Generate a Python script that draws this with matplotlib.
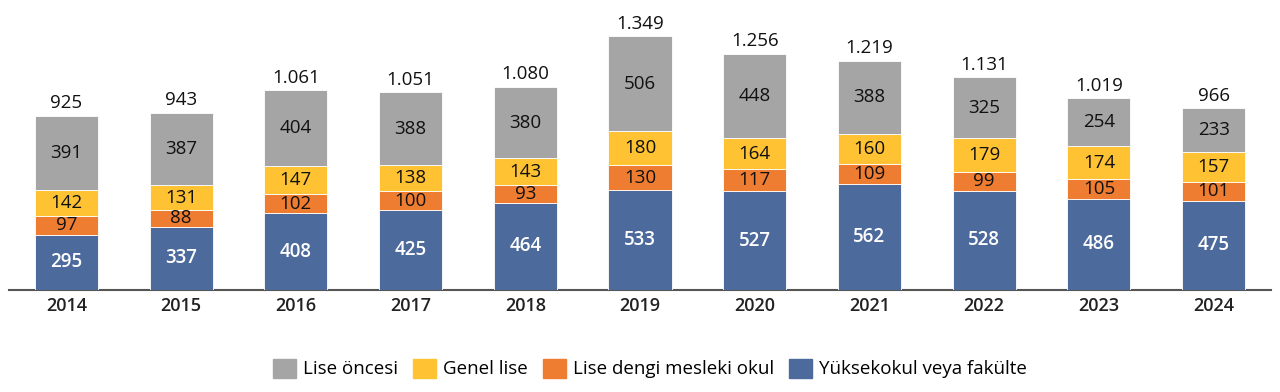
import matplotlib
matplotlib.use('Agg')
import matplotlib.pyplot as plt
import matplotlib.patches as mpatches
import numpy as np

plt.rcParams['font.family'] = ['Open Sans', 'DejaVu Sans']

years = ['2014', '2015', '2016', '2017', '2018', '2019', '2020', '2021', '2022', '2023', '2024']
yuksekokul = [295, 337, 408, 425, 464, 533, 527, 562, 528, 486, 475]
meslek = [97, 88, 102, 100, 93, 130, 117, 109, 99, 105, 101]
genel = [142, 131, 147, 138, 143, 180, 164, 160, 179, 174, 157]
lise_oncesi = [391, 387, 404, 388, 380, 506, 448, 388, 325, 254, 233]
totals = [925, 943, 1061, 1051, 1080, 1349, 1256, 1219, 1131, 1019, 966]

series = [
    ('Yüksekokul veya fakülte', yuksekokul, '#4D6A9C', 'white'),
    ('Lise dengi mesleki okul', meslek, '#EE7D31', '#111111'),
    ('Genel lise', genel, '#FFC232', '#111111'),
    ('Lise öncesi', lise_oncesi, '#A5A5A5', '#111111'),
]


def tr_fmt(v):
    return f'{v:,}'.replace(',', '.')


fig = plt.figure(figsize=(12.8, 3.92), dpi=100)
ax = fig.add_axes([0.007, 0.26, 0.986, 0.74])

x = np.arange(len(years))
bottom = np.zeros(len(years))
for name, vals, color, tcolor in series:
    vals = np.array(vals)
    ax.bar(x, vals, width=0.55, bottom=bottom, color=color, edgecolor='white', linewidth=0.6, zorder=3)
    for xi, b, v in zip(x, bottom, vals):
        ax.text(xi, b + v / 2, str(v), ha='center', va='center', fontsize=13.5,
                color=tcolor, fontweight='semibold' if tcolor == 'white' else 'normal', zorder=4)
    bottom += vals

for xi, t, top in zip(x, totals, bottom):
    ax.text(xi, top + 20, tr_fmt(t), ha='center', va='bottom', fontsize=13.5, color='#111111')

ax.set_xlim(-0.5, 10.5)
ax.set_ylim(0, 1542)
ax.set_xticks(x)
ax.set_xticklabels(years, fontsize=13, fontweight='semibold', color='#222222')
ax.tick_params(axis='x', length=0, pad=5)
ax.set_yticks([])
for s in ['top', 'right', 'left']:
    ax.spines[s].set_visible(False)
ax.spines['bottom'].set_color('#555555')
ax.spines['bottom'].set_linewidth(1.5)

handles = [mpatches.Patch(color=c, label=n) for n, _, c, _ in reversed(series)]
fig.legend(handles=handles, loc='center', bbox_to_anchor=(0.508, 0.06), ncol=4, frameon=False,
           fontsize=13.5, handlelength=1.2, handleheight=1.2, handletextpad=0.4, columnspacing=0.8)

fig.savefig('out.png', dpi=100, facecolor='white')
